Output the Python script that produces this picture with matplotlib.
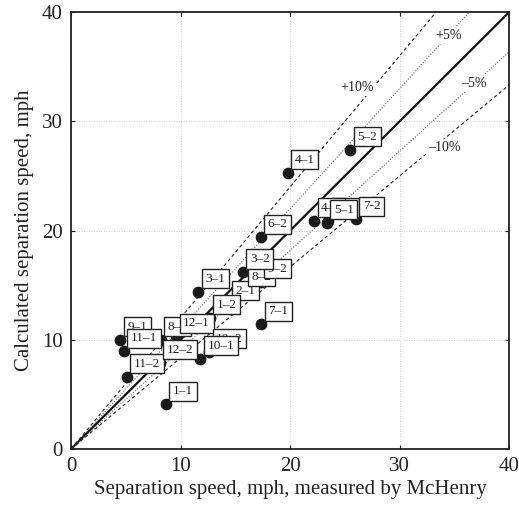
import matplotlib
matplotlib.use("Agg")
import matplotlib.pyplot as plt
import numpy as np

plt.rcParams['font.family'] = ['Liberation Serif', 'DejaVu Serif']

# measured (McHenry) vs calculated separation speeds, mph
# listed in drawing order so the overlapping label boxes stack like the original
labels = ['1–1', '11–2', '9–1', '11–1', '12–2', '8–1', '12–1', '10–2', '10–1',
          '2–1', '1–2', '3–1', '8–2', '9–2', '3–2', '7–1', '6–2', '4–1', '5–2',
          '6–1', '4–2', '5–1', '7-2']
measured = [8.65, 5.1, 4.5, 4.8, 8.1, 8.2, 9.6, 12.6, 11.8,
            14.4, 12.65, 11.6, 15.8, 17.3, 15.7, 17.35, 17.3, 19.8, 25.5,
            23.5, 22.2, 23.35, 26.0]
calculated = [4.1, 6.6, 10.0, 8.95, 7.9, 10.0, 10.3, 8.9, 8.25,
              13.3, 12.0, 14.4, 14.6, 15.3, 16.2, 11.4, 19.4, 25.3, 27.4,
              20.9, 20.9, 20.7, 21.05]

# reference lines: slope, style, tag, tag position
line_slopes = [1.2, 1.1, 1.0, 1 / 1.1, 1 / 1.2]
line_styles = ['dashed', 'dotted', 'solid', 'dotted', 'dashed']
tag_text = ['+10%', '+5%', '–5%', '–10%']
tag_x = [26.1, 34.5, 36.8, 34.1]
tag_y = [33.1, 37.9, 33.5, 27.6]

fig = plt.figure(figsize=(5.19, 5.05), dpi=100)
ax = fig.add_axes([0.137, 0.111, 0.844, 0.865])

ax.set_xlim(0, 40)
ax.set_ylim(0, 40)
ax.set_xticks([0, 10, 20, 30, 40])
ax.set_yticks([0, 10, 20, 30, 40])
ax.grid(True, linestyle=(0, (1, 2)), color='#bbbbbb', linewidth=0.6)
ax.set_axisbelow(True)

xs = np.array([0, 40])
for k, st in zip(line_slopes, line_styles):
    if st == 'solid':
        ax.plot(xs, k * xs, color='#111111', lw=1.6, zorder=2)
    elif st == 'dashed':
        ax.plot(xs, k * xs, color='#222222', lw=0.8, ls=(0, (3, 2.5)), zorder=2)
    else:
        ax.plot(xs, k * xs, color='#666666', lw=0.8, ls=(0, (1, 1.5)), zorder=2)

for t, tx, ty in zip(tag_text, tag_x, tag_y):
    ax.text(tx, ty, t, fontsize=10, ha='center', va='center', color='#222222',
            bbox=dict(facecolor='white', edgecolor='none', pad=1.5), zorder=3)

ax.scatter(measured, calculated, s=55, color='#1a1a1a', zorder=4)

for i, (lab, mx, cy) in enumerate(zip(labels, measured, calculated)):
    ax.annotate(lab, (mx, cy), xytext=(7, 7), textcoords='offset pixels',
                fontsize=9.5, ha='left', va='bottom', color='#222222',
                bbox=dict(boxstyle='square,pad=0.27', facecolor='white',
                          edgecolor='#222222', linewidth=1.0),
                zorder=5 + i)

for sp in ax.spines.values():
    sp.set_linewidth(1.3)
    sp.set_color('#222222')
ax.tick_params(direction='in', length=3, width=0.8, labelsize=15, pad=6,
               top=True, right=True, colors='#222222')

ax.set_xlabel('Separation speed, mph, measured by McHenry', fontsize=15,
              color='#222222', labelpad=3)
ax.set_ylabel('Calculated separation speed, mph', fontsize=15,
              color='#222222', labelpad=6)

fig.savefig('out.png', dpi=100)
